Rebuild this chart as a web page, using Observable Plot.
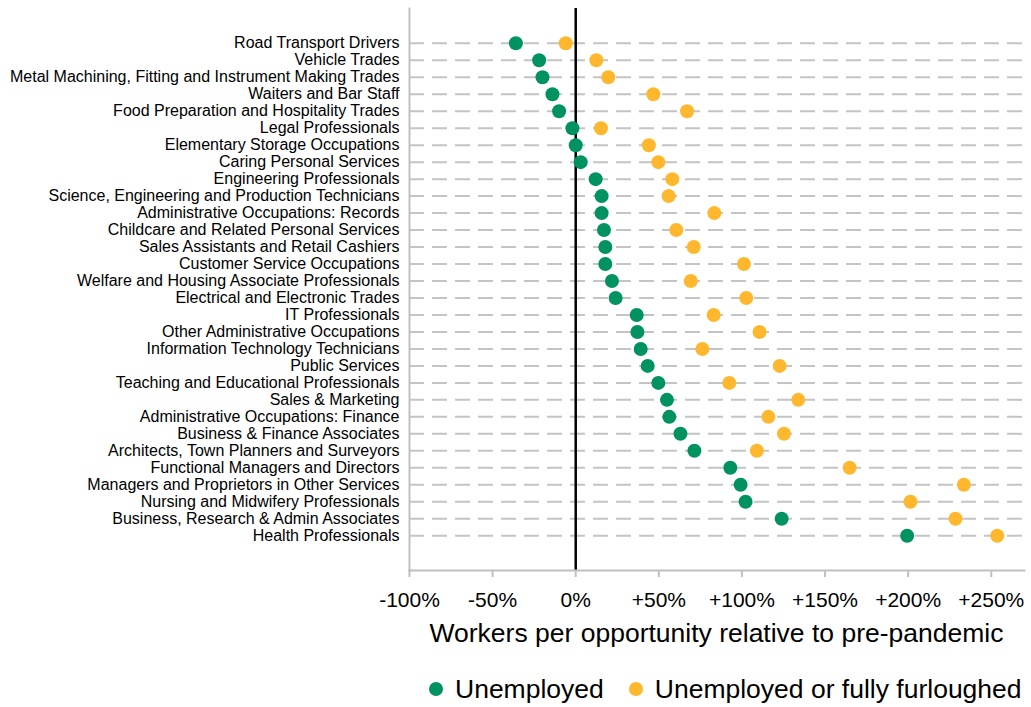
<!DOCTYPE html>
<html>
<head>
<meta charset="utf-8">
<script src="https://cdn.jsdelivr.net/npm/d3@7"></script>
<script src="https://cdn.jsdelivr.net/npm/@observablehq/plot@0.6"></script>
<style>
  html, body { margin: 0; padding: 0; background: white; }
  #wrap { position: relative; width: 1031px; height: 707px; font-family: "Liberation Sans", Arial, sans-serif; color: #000; }
  #title { position: absolute; left: 409px; width: 615px; top: 616px; text-align: center; font-size: 26.5px; line-height: 34px; white-space: nowrap; }
  #legend { position: absolute; left: 429px; top: 672px; display: flex; align-items: center; font-size: 26.5px; line-height: 34px; white-space: nowrap; }
  .sw { display: inline-block; width: 14px; height: 14px; border-radius: 50%; margin-right: 12px; }
  .item { display: flex; align-items: center; margin-right: 25px; }
</style>
</head>
<body>
<div id="wrap">
  <div id="chart"></div>
  <div id="title">Workers per opportunity relative to pre-pandemic</div>
  <div id="legend"></div>
</div>
<script>
const categories = [
  "Road Transport Drivers",
  "Vehicle Trades",
  "Metal Machining, Fitting and Instrument Making Trades",
  "Waiters and Bar Staff",
  "Food Preparation and Hospitality Trades",
  "Legal Professionals",
  "Elementary Storage Occupations",
  "Caring Personal Services",
  "Engineering Professionals",
  "Science, Engineering and Production Technicians",
  "Administrative Occupations: Records",
  "Childcare and Related Personal Services",
  "Sales Assistants and Retail Cashiers",
  "Customer Service Occupations",
  "Welfare and Housing Associate Professionals",
  "Electrical and Electronic Trades",
  "IT Professionals",
  "Other Administrative Occupations",
  "Information Technology Technicians",
  "Public Services",
  "Teaching and Educational Professionals",
  "Sales & Marketing",
  "Administrative Occupations: Finance",
  "Business & Finance Associates",
  "Architects, Town Planners and Surveyors",
  "Functional Managers and Directors",
  "Managers and Proprietors in Other Services",
  "Nursing and Midwifery Professionals",
  "Business, Research & Admin Associates",
  "Health Professionals"
];
const unemployed = [-36, -22, -20, -14, -10, -2, 0, 3, 12, 15.6, 15.6, 17, 17.8, 17.8, 21.8, 24, 36.7, 37.1, 39.1, 43.3, 49.7, 54.9, 56.3, 63, 71.4, 93, 99.2, 102.2, 123.9, 199.4];
const furloughed = [-6, 12.4, 19.6, 46.7, 67, 15.2, 44, 49.7, 58.1, 55.9, 83.4, 60.5, 71, 101.2, 69.2, 102.6, 83, 110.6, 76.2, 122.7, 92.4, 133.9, 115.9, 125.3, 109, 164.8, 233.5, 201.4, 228.5, 253.6];
const xTicks = [-100, -50, 0, 50, 100, 150, 200, 250];
const xTickLabels = ["-100%", "-50%", "0%", "+50%", "+100%", "+150%", "+200%", "+250%"];
const seriesNames = ["Unemployed", "Unemployed or fully furloughed"];
const seriesColors = ["#00935f", "#ffb82e"];

const rowsU = categories.map((c, i) => ({cat: c, v: unemployed[i]}));
const rowsF = categories.map((c, i) => ({cat: c, v: furloughed[i]}));

const chart = Plot.plot({
  width: 1031,
  height: 612,
  marginLeft: 409,
  marginRight: 7,
  marginTop: 8,
  marginBottom: 42,
  style: {fontFamily: "'Liberation Sans', Arial, sans-serif", fontSize: "16px", color: "#000", background: "white", overflow: "visible"},
  x: {domain: [-100, 270], label: null},
  y: {type: "point", domain: categories, padding: 2.05, round: false, label: null},
  marks: [
    Plot.ruleY(categories, {stroke: "#c4c4c4", strokeWidth: 2, strokeDasharray: "15,8"}),
    Plot.ruleX([0], {stroke: "#000", strokeWidth: 2.5}),
    Plot.axisY({tickSize: 0, tickPadding: 10, fontSize: 16, label: null}),
    Plot.axisX({ticks: xTicks, tickFormat: d => xTickLabels[xTicks.indexOf(d)], tickSize: 7, tickPadding: 15, fontSize: 21, stroke: "#c0c0c0", strokeWidth: 2, label: null}),
    Plot.frame({anchor: "left", stroke: "#c0c0c0", strokeWidth: 2}),
    Plot.frame({anchor: "bottom", stroke: "#c0c0c0", strokeWidth: 2}),
    Plot.dot(rowsU, {x: "v", y: "cat", r: 7, fill: seriesColors[0], stroke: "none"}),
    Plot.dot(rowsF, {x: "v", y: "cat", r: 7, fill: seriesColors[1], stroke: "none"})
  ]
});
document.getElementById("chart").appendChild(chart);

const legend = document.getElementById("legend");
seriesNames.forEach((n, i) => {
  const it = document.createElement("div");
  it.className = "item";
  const sw = document.createElement("span");
  sw.className = "sw";
  sw.style.background = seriesColors[i];
  it.appendChild(sw);
  it.appendChild(document.createTextNode(n));
  legend.appendChild(it);
});
</script>
</body>
</html>
